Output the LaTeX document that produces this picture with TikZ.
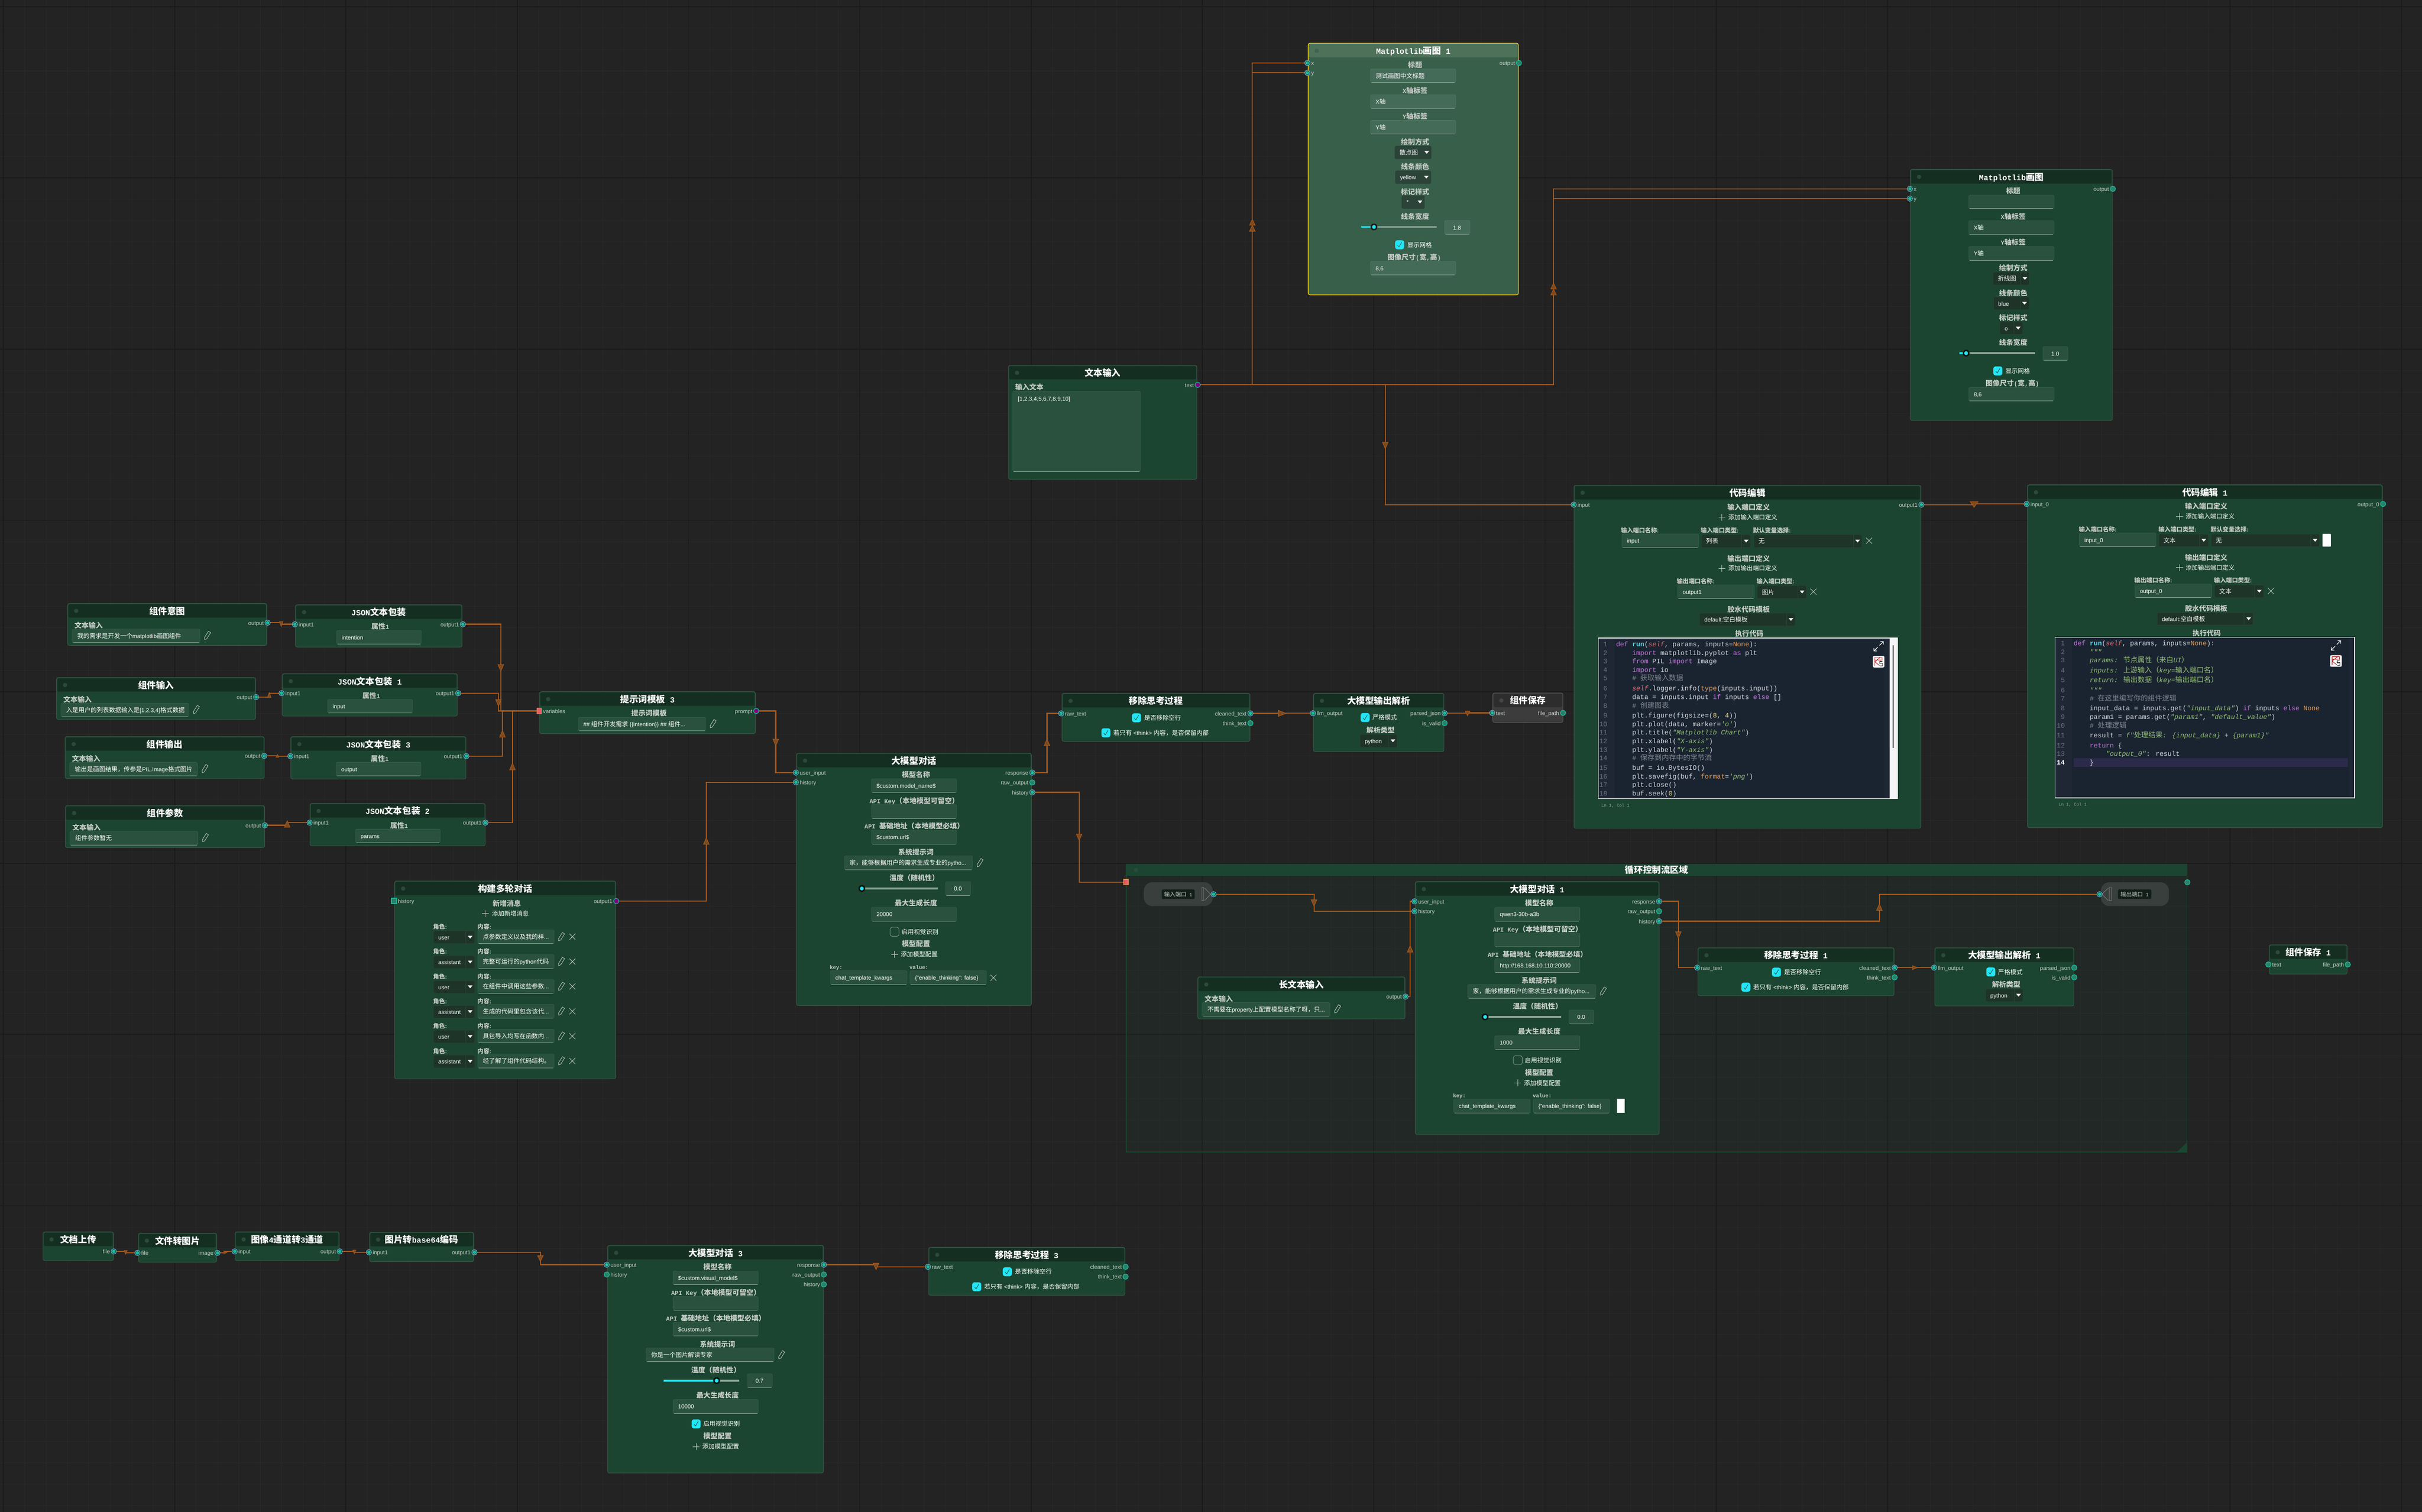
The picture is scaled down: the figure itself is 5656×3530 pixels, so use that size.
\documentclass[tikz,border=0pt]{standalone}
\usepackage{fontspec}
\usetikzlibrary{calc}
\setmainfont{Liberation Sans}[Scale=0.93]
\newfontfamily\cjkf{Noto Sans CJK SC}
\newfontfamily\monof{Liberation Mono}[Scale=0.87]
\newfontfamily\codef{Liberation Mono}[Scale=0.94,Ligatures=ResetAll]
\newfontfamily\lnf{Liberation Mono}[Scale=0.83]
% automatic switch to the CJK family
\newXeTeXintercharclass\cjkclass
\newcount\cjkn
\def\setclsrange#1#2#3{\cjkn=#1\relax\loop\XeTeXcharclass\cjkn=#3\relax\ifnum\cjkn<#2\relax\advance\cjkn by 1\repeat}
\setclsrange{"21}{"7E}{0}
\setclsrange{"3000}{"30FF}{\cjkclass}
\setclsrange{"4E00}{"9FFF}{\cjkclass}
\setclsrange{"FF00}{"FFEF}{\cjkclass}
\XeTeXinterchartoks 0 \cjkclass={\begingroup\cjkf}
\XeTeXinterchartoks \cjkclass 0={\endgroup}
\XeTeXinterchartoks 4095 \cjkclass={\begingroup\cjkf}
\XeTeXinterchartoks \cjkclass 4095={\endgroup}
\XeTeXinterchartokenstate=1
\definecolor{bgc}{HTML}{232323}
\definecolor{gridmin}{HTML}{292929}
\definecolor{gridmaj}{HTML}{1A1A1A}
\definecolor{bodyc}{HTML}{1B4530}
\definecolor{hdrc}{HTML}{152E22}
\definecolor{bordc}{HTML}{3A5748}
\definecolor{dotc}{HTML}{2C4A3B}
\definecolor{inbc}{HTML}{29513D}
\definecolor{inbd}{HTML}{33604A}
\definecolor{inln}{HTML}{8FA79A}
\definecolor{ddc}{HTML}{1E3429}
\definecolor{ddl}{HTML}{2B4237}
\definecolor{labc}{HTML}{C6CCC8}
\definecolor{wirec}{HTML}{A5581C}
\definecolor{trif}{HTML}{7A4A20}
\definecolor{cyanc}{HTML}{22E6F7}
\definecolor{portblue}{HTML}{6AA9C9}
\definecolor{portteal}{HTML}{1ABC9C}
\definecolor{portun}{HTML}{2A8068}
\definecolor{purp}{HTML}{800080}
\definecolor{edbg}{HTML}{1A2431}
\definecolor{edgut}{HTML}{1F2735}
\definecolor{hlc}{HTML}{2C2A4A}
\definecolor{ckw}{HTML}{C678DD}
\definecolor{cfn}{HTML}{56D4E0}
\definecolor{cself}{HTML}{E06C75}
\definecolor{cor}{HTML}{E5A05C}
\definecolor{cstr}{HTML}{98C379}
\definecolor{cnum}{HTML}{E5D07B}
\definecolor{ccm}{HTML}{7F858E}
\definecolor{ctx}{HTML}{D6DAE0}
\definecolor{cln}{HTML}{6C7480}
\pgfdeclarelayer{wirelayer}
\pgfdeclarelayer{toplayer}
\pgfsetlayers{main,wirelayer,toplayer}
\tikzset{
 mextra/.style={},
 ttl/.style={inner sep=0pt,outer sep=0pt,text=white,font=\fontsize{21}{24}\selectfont\monof\bfseries,text height=18.5pt,text depth=2.5pt},
 lab/.style={inner sep=0pt,outer sep=0pt,text=labc,font=\fontsize{16.5}{19}\selectfont\monof\bfseries,text height=14.5pt,text depth=2pt},
 labw/.style={lab,anchor=west},
 val/.style={inner sep=0pt,outer sep=0pt,anchor=west,text=white,font=\fontsize{14.3}{17}\selectfont,text height=12.6pt,text depth=1.7pt},
 valc/.style={val,anchor=center},
 small/.style={inner sep=0pt,outer sep=0pt,anchor=west,text=labc,font=\fontsize{14}{17}\selectfont\bfseries,text height=12.3pt,text depth=1.7pt},
 smallm/.style={small,font=\fontsize{14}{17}\selectfont\monof\bfseries},
 plab/.style={inner sep=0pt,outer sep=0pt,anchor=west,text=labc,font=\fontsize{14}{17}\selectfont,text height=12.3pt,text depth=1.7pt},
 prab/.style={plab,anchor=east},
 pill/.style={inner sep=0pt,outer sep=0pt,text=labc,font=\fontsize{13}{15}\selectfont\monof,text height=11.4pt,text depth=1.6pt},
 code/.style={inner sep=0pt,outer sep=0pt,anchor=west,text=ctx,font=\fontsize{16.7}{19}\selectfont\codef,text height=11.5pt,text depth=1.5pt},
 lnum/.style={inner sep=0pt,outer sep=0pt,anchor=east,text=cln,font=\fontsize{16.7}{19}\selectfont\codef,text height=11.5pt,text depth=1.5pt},
 lnum14/.style={lnum,text=white,font=\fontsize{16.7}{19}\selectfont\codef\bfseries},
 lnc/.style={inner sep=0pt,outer sep=0pt,anchor=west,text=labc!70!bodyc,font=\fontsize{12}{14}\selectfont\lnf,text height=10pt,text depth=1.5pt},
 body/.style={draw=bordc,fill=bodyc,line width=1.2pt,rounded corners=4pt,inner sep=0pt,outer sep=0pt,anchor=north west},
 inb/.style={fill=inbc,draw=inbd,line width=0.8pt,rounded corners=3pt},
 inline/.style={draw=inln,line width=1.1pt},
 ddbox/.style={fill=ddc,draw=ddl,line width=0.8pt,rounded corners=3pt},
 icon/.style={draw=labc,line width=1pt,line join=round},
 wire/.style={draw=wirec,line width=2.5pt,line join=miter},
 trih/.style={draw=wirec,fill=trif,line width=1.4pt,line join=miter},
 portc/.style={circle,draw=portblue,fill=bodyc,line width=1.4pt,minimum size=12.5pt,inner sep=0pt,outer sep=0pt},
 portu/.style={circle,draw=portteal,fill=portun,line width=1.4pt,minimum size=12.5pt,inner sep=0pt,outer sep=0pt},
 portp/.style={circle,draw=portteal,fill=purp,line width=1.4pt,minimum size=12.5pt,inner sep=0pt,outer sep=0pt},
 portr/.style={rectangle,draw=cor,fill=cself!85!red,line width=1.4pt,minimum width=11pt,minimum height=13pt,inner sep=0pt,outer sep=0pt},
 ports/.style={rectangle,draw=portteal,fill=portun,line width=2pt,minimum size=12.5pt,inner sep=0pt,outer sep=0pt},
}
\newcounter{tn}
\newcommand\mytx[4][val]{\stepcounter{tn}\node[#1] (t\arabic{tn}) at ({#2},{#3}) {#4};}
\newcommand\nbody[7][]{%
 \node[body,#1,minimum width=#5pt,minimum height=#6pt] (#2) at (#3,#4) {};
 \fill[hdrc,rounded corners=3pt] ({#3+2},{#4+2}) rectangle ({#3+#5-2},{#4+33});
 \fill[dotc] ({#3+20},{#4+17.5}) circle (5pt);
 \mytx[ttl]{#3+#5/2}{#4+17.5}{#7}}
\newcommand\inbox[5]{\path[inb] (#1,#2) rectangle (#3,#4);\draw[inline] ({#1+2},#4) -- ({#3-2},#4);\mytx[val]{#1+12}{(#2+#4)/2}{#5}}
\newcommand\ddown[6]{\path[ddbox] (#1,#2) rectangle (#3,#4);\draw[ddl,line width=0.8pt] (#5,#2) -- (#5,#4);
 \fill[white] ({(#5+#3)/2-5.5},{(#2+#4)/2-3.5}) -- ({(#5+#3)/2+5.5},{(#2+#4)/2-3.5}) -- ({(#5+#3)/2},{(#2+#4)/2+3}) -- cycle;
 \mytx[val]{#1+11}{(#2+#4)/2}{#6}}
\newcommand\chkb[3]{\ifnum#3=1\relax
 \fill[cyanc,rounded corners=5pt] ({#1-10.5},{#2-10.5}) rectangle ({#1+10.5},{#2+10.5});
 \draw[bodyc,line width=1pt] ({#1-5},{#2+1}) -- ({#1-1.5},{#2+5}) -- ({#1+5},{#2-6});
 \else\draw[labc!60!bodyc,line width=1pt,rounded corners=5pt] ({#1-10.5},{#2-10.5}) rectangle ({#1+10.5},{#2+10.5});\fi}
\newcommand\sld[4]{\draw[inln,line width=4pt] (#1,#3) -- (#2,#3);
 \draw[cyanc,line width=4pt] (#1,#3) -- ({#1+(#2-#1)*#4},#3);
 \fill[black!70!bodyc] ({#1+(#2-#1)*#4},#3) circle (8pt);
 \fill[cyanc] ({#1+(#2-#1)*#4},#3) circle (4.5pt);}
\newcommand\pen[2]{\draw[icon,shift={(#1,#2)},rotate=58] (-11,0) -- (-7,-3) -- (10,-3) -- (10,3) -- (-7,3) -- cycle;}
\newcommand\crs[2]{\draw[icon] ({#1-7},{#2-7}) -- ({#1+7},{#2+7}) ({#1-7},{#2+7}) -- ({#1+7},{#2-7});}
\newcommand\plus[2]{\draw[icon] ({#1-8},#2) -- ({#1+8},#2) (#1,{#2-8}) -- (#1,{#2+8});}
\newcommand\portC[3]{\begin{pgfonlayer}{toplayer}\node[portc] (#1) at (#2,#3) {};\fill[portteal] (#1.center) circle (4pt);\end{pgfonlayer}}
\newcommand\portU[3]{\begin{pgfonlayer}{toplayer}\node[portu] (#1) at (#2,#3) {};\end{pgfonlayer}}
\newcommand\portP[3]{\begin{pgfonlayer}{toplayer}\node[portp] (#1) at (#2,#3) {};\end{pgfonlayer}}
\newcommand\portR[3]{\begin{pgfonlayer}{toplayer}\node[portr] (#1) at (#2,#3) {};\end{pgfonlayer}}
\newcommand\portS[3]{\begin{pgfonlayer}{toplayer}\node[ports] (#1) at (#2,#3) {};\end{pgfonlayer}}
\newcommand\pL[5]{#1{#2}{#3}{#4}\mytx[plab]{#3+9}{#4}{#5}}
\newcommand\pE[5]{#1{#2}{#3}{#4}\mytx[prab]{#3-9}{#4}{#5}}
\newcommand\hvh[3]{\path (#2,0) coordinate (wx);\draw[wire] (#1.center) -- (#1.center -| wx) -- (wx |- #3.center) -- (#3.center);}
\newcommand\tri[5]{\draw[trih,shift={(#1,#2)},rotate=#3] ({-#4/2},{-#5/2}) -- ({#4/2},0) -- ({-#4/2},{#5/2}) -- cycle;}
\newcommand\textn[6]{\nbody{#1}{#2}{#3}{#4}{98}{#5}
 \begin{scope}[shift={(#2,#3)}]\mytx[labw]{16}{51}{文本输入}\inbox{10.5}{60}{309}{92}{#6}\pen{326}{75}\end{scope}}
\newcommand\jsonn[6]{\nbody{#1}{#2}{#3}{#4}{99}{#5}
 \pgfmathsetmacro\ddx{(#4-389)/2}
 \begin{scope}[shift={({#2+\ddx},#3)}]\mytx[lab]{198}{51}{属性1}\inbox{96}{60}{294}{92}{#6}\end{scope}}
\newcommand\rmn[5]{\nbody{#1}{#2}{#3}{#4}{112}{#5}
 \pgfmathsetmacro\ddx{(#4-439)/2}
 \begin{scope}[shift={({#2+\ddx},#3)}]\chkb{174}{57}{1}\mytx[val]{192}{57}{是否移除空行}\chkb{102.6}{92}{1}\mytx[val]{120}{92}{若只有 <think> 内容，是否保留内部}\end{scope}}
\newcommand\parsen[5]{\nbody{#1}{#2}{#3}{#4}{136}{#5}
 \pgfmathsetmacro\ddx{(#4-305)/2}
 \begin{scope}[shift={({#2+\ddx},#3)}]\chkb{121}{56.4}{1}\mytx[val]{138}{56.4}{严格模式}\mytx[lab]{157}{86}{解析类型}\ddown{109}{96}{196}{126}{175.5}{python}\end{scope}}
\newcommand\llm[5]{\nbody{#1}{#2}{#3}{#4}{#5}{\Ltitle}
 \pgfmathsetmacro\ddx{(#4-548.6)/2}
 \begin{scope}[shift={({#2+\ddx},#3)}]
 \mytx[lab]{279}{50.5}{模型名称}\inbox{175}{60}{374}{92}{\Lmodel}
 \mytx[lab]{275}{110.8}{API Key（本地模型可留空）}\inbox{175}{120}{374}{152}{}
 \mytx[lab]{275}{170.2}{API 基础地址（本地模型必填）}\inbox{175}{180}{374}{212}{\Lurl}
 \mytx[lab]{279}{230.8}{系统提示词}\inbox{112}{240}{411}{272}{\Lsys}\pen{428}{256}
 \mytx[lab]{275}{290.8}{温度（随机性）}\sld{152.6}{330}{316}{\Lfrac}
 \path[inb] (348.6,300) rectangle (406.7,332);\draw[inline] (350,332) -- (405,332);\mytx[valc]{377}{316}{\Ltemp}
 \mytx[lab]{279}{350}{最大生成长度}\inbox{175}{360}{374}{392}{\Lmax}
 \chkb{229}{417}{\Lcheck}\mytx[val]{245.5}{417}{启用视觉识别}
 \mytx[lab]{279}{445.4}{模型配置}\plus{229}{470}\mytx[val]{243.5}{470}{添加模型配置}
 \ifnum\Lkv>0\relax
 \mytx[smallm]{78}{499.4}{key:}\mytx[smallm]{264}{499.4}{value:}
 \inbox{79}{508}{258}{540}{chat\_template\_kwargs}\inbox{265}{508}{443.5}{540}{\{"enable\_thinking": false\}}
 \ifnum\Lkv=1\relax\crs{460}{524.5}\else\fill[white] (460,507) rectangle (478,540);\fi
 \fi
 \end{scope}}
\newcommand\mpl[5]{\nbody[mextra]{#1}{#2}{#3}{#4}{#5}{\Mtitle}
 \pgfmathsetmacro\ddx{(#4-471.6)/2}
 \begin{scope}[shift={({#2+\ddx},#3)}]
 \mytx[lab]{240}{50}{标题}\inbox{136}{60}{335}{92}{\Mt}
 \mytx[lab]{240}{110.6}{X轴标签}\inbox{136}{120}{335}{152}{X轴}
 \mytx[lab]{240}{170.6}{Y轴标签}\inbox{136}{180}{335}{212}{Y轴}
 \mytx[lab]{240}{230.5}{绘制方式}\ddown{193}{240}{277.7}{270}{256.7}{\Mplot}
 \mytx[lab]{240}{288.5}{线条颜色}\ddown{194}{298}{277}{327.7}{255.6}{\Mcolor}
 \mytx[lab]{240}{346.5}{标记样式}\ddown{209}{356}{262}{385.7}{241}{\Mmark}
 \mytx[lab]{240}{404.5}{线条宽度}\sld{114}{291}{429}{\Mfrac}
 \path[inb] (309,413.7) rectangle (367.7,446);\draw[inline] (311,446) -- (366,446);\mytx[valc]{338}{430}{\Mwidth}
 \chkb{204}{470.5}{1}\mytx[val]{222}{470.5}{显示网格}
 \mytx[lab]{238}{499.5}{图像尺寸(宽,高)}\inbox{136}{509}{335}{541}{8,6}
 \end{scope}}
\newcommand\mrow[3]{\begin{scope}[shift={(0,#1)}]
 \mytx[small]{1011.4}{2164}{角色:}\mytx[small]{1115}{2164}{内容:}
 \ddown{1012.5}{2173.7}{1108.5}{2203.3}{1087.4}{#2}
 \inbox{1115.6}{2171.3}{1294}{2203.3}{#3}
 \pen{1310.6}{2187.3}\crs{1336.6}{2187.3}\end{scope}}
\newcommand\fsicon[2]{\draw[white,line width=1.4pt] ({#1+2},{#2-2}) -- ({#1+11},{#2-11}) ({#1+4},{#2-11}) -- ({#1+11},{#2-11}) -- ({#1+11},{#2-4}) ({#1-2},{#2+2}) -- ({#1-11},{#2+11}) ({#1-4},{#2+11}) -- ({#1-11},{#2+11}) -- ({#1-11},{#2+4});}
\newcommand\ksicon[2]{\fill[white,rounded corners=3pt] ({#1-13.5},{#2-13.5}) rectangle ({#1+13.5},{#2+13.5});
 \draw[red!65!black,line width=1pt] ({#1-9},{#2-10}) -- ({#1-9},{#2+10}) ({#1-9},{#2}) -- ({#1+4},{#2-10}) ({#1-9},{#2}) -- ({#1+2},{#2+9}) ({#1-9},{#2-10}) -- ({#1+8},{#2-10}) -- ({#1+8},{#2-3}) ({#1-9},{#2-4}) -- ({#1+6},{#2-4});
 \draw[black!75,line width=1.3pt] ({#1+9},{#2-1}) -- ({#1+3},{#2-1}) -- ({#1+3},{#2+4}) -- ({#1+9},{#2+4}) -- ({#1+9},{#2+10}) -- ({#1+3},{#2+10});}
\newcommand\K[1]{\textcolor{ckw}{#1}}
\newcommand\Fn[1]{\textcolor{cfn}{\bfseries #1}}
\newcommand\Sf[1]{\textcolor{cself}{\itshape #1}}
\newcommand\Or[1]{\textcolor{cor}{#1}}
\newcommand\St[1]{\textcolor{cstr}{\itshape #1}}
\newcommand\Nm[1]{\textcolor{cnum}{#1}}
\newcommand\Cm[1]{\textcolor{ccm}{#1}}
\newcommand\cl[3]{\mytx[code]{#1}{#2}{#3}}
\newcommand\nl[3]{\mytx[lnum]{#1}{#2}{#3}}
\begin{document}
\begin{tikzpicture}[x=1pt,y=-1pt]
\useasboundingbox (0,0) rectangle (5656,3530);
\fill[bgc] (0,0) rectangle (5656,3530);
\foreach \k in {0,...,113} {\draw[gridmin,line width=1pt] ({8+50*\k},0) -- ({8+50*\k},3530);}
\foreach \k in {0,...,70} {\draw[gridmin,line width=1pt] (0,{15.5+50*\k}) -- (5656,{15.5+50*\k});}
\foreach \k in {0,...,14} {\draw[gridmaj,line width=2pt] ({8+400*\k},0) -- ({8+400*\k},3530);}
\foreach \k in {0,...,8} {\draw[gridmaj,line width=2pt] (0,{15.5+400*\k}) -- (5656,{15.5+400*\k});}
% ---------- loop group
\node[draw=bodyc,line width=1.5pt,fill=bodyc,fill opacity=0.16,inner sep=0pt,outer sep=0pt,anchor=north west,minimum width=2477pt,minimum height=672pt] (gLoop) at (2630,2018) {};
\fill[bodyc] (2630,2018) rectangle (5107,2045);
\fill[dotc] (2653,2031.5) circle (5pt);
\mytx[ttl]{3868.5}{2031.5}{循环控制流区域}
\fill[bodyc] (5083.6,2690) -- (5107,2667) -- (5107,2690) -- cycle;
\fill[black!70!bodyc!60!gray,rounded corners=20pt] (2671,2060) rectangle (2832,2115.6);
\fill[ddc!60!black,rounded corners=3pt] (2713,2077) rectangle (2790,2099);
\mytx[pill]{2751.5}{2088}{输入端口 1}
\draw[gray,line width=1pt] (2806.5,2072) rectangle (2810.7,2102.7) (2813,2073.7) -- (2827,2088) -- (2813,2102.7);
\fill[black!70!bodyc!60!gray,rounded corners=20pt] (4906,2060) rectangle (5065,2115.6);
\fill[ddc!60!black,rounded corners=3pt] (4946,2077) rectangle (5024,2099);
\mytx[pill]{4985}{2088}{输出端口 1}
\draw[gray,line width=1pt] (4925.5,2072) rectangle (4930.6,2102.7) (4923.5,2073.7) -- (4908,2088) -- (4923.5,2102.7);
% ---------- text input nodes
\textn{nIntent}{158}{1409}{465}{组件意图}{我的需求是开发一个matplotlib画图组件}
\textn{nInput}{132}{1582}{465}{组件输入}{入是用户的列表数据输入是[1,2,3,4]格式数据}
\textn{nOutput}{152}{1720}{465}{组件输出}{输出是画图结果，传参是PIL.Image格式图片}
\textn{nParams}{153}{1881}{465}{组件参数}{组件参数暂无}
\jsonn{nJ}{690}{1412}{389}{JSON文本包装}{intention}
\jsonn{nJa}{659}{1573}{409}{JSON文本包装 1}{input}
\jsonn{nJc}{679}{1720}{409}{JSON文本包装 3}{output}
\jsonn{nJb}{724}{1876}{409}{JSON文本包装 2}{params}
% ---------- prompt
\nbody{nPrompt}{1260}{1615}{504}{98}{提示词模板 3}
\mytx[lab]{1515.7}{1665}{提示词模板}
\inbox{1350.4}{1674.7}{1648}{1706.5}{\#\# 组件开发需求 \{\{intention\}\} \#\# 组件...}
\pen{1664.7}{1690}
% ---------- multi turn
\nbody{nMulti}{921.5}{2057.3}{516.5}{461.7}{构建多轮对话}
\mytx[lab]{1183.5}{2109.3}{新增消息}
\plus{1133}{2133}\mytx[val]{1149}{2133}{添加新增消息}
\mrow{0}{user}{点参数定义以及我的样...}
\mrow{58}{assistant}{完整可运行的python代码}
\mrow{116}{user}{ 在组件中调用这些参数...}
\mrow{174}{assistant}{生成的代码里包含该代...}
\mrow{232}{user}{具包导入均写在函数内...}
\mrow{290}{assistant}{经了解了组件代码结构。}
% ---------- LLM nodes
\def\Ltitle{大模型对话}\def\Lmodel{\$custom.model\_name\$}\def\Lurl{\$custom.url\$}\def\Lsys{家，能够根据用户的需求生成专业的pytho...}\def\Lfrac{0}\def\Ltemp{0.0}\def\Lmax{20000}\def\Lcheck{0}\def\Lkv{1}
\llm{nLLM}{1860}{1758.6}{548.6}{589.4}
\def\Ltitle{大模型对话 1}\def\Lmodel{qwen3-30b-a3b}\def\Lurl{http://168.168.10.110:20000}\def\Lmax{1000}\def\Lkv{2}
\llm{nLLMa}{3305}{2058.5}{569.5}{590.5}
\def\Ltitle{大模型对话 3}\def\Lmodel{\$custom.visual\_model\$}\def\Lurl{\$custom.url\$}\def\Lsys{你是一个图片解读专家}\def\Lfrac{0.7}\def\Ltemp{0.7}\def\Lmax{10000}\def\Lcheck{1}\def\Lkv{0}
\llm{nLLMc}{1419}{2907.7}{504}{531.8}
% ---------- text input (top)
\nbody{nText}{2355}{853}{440}{266}{文本输入}
\mytx[labw]{2370.7}{903.4}{输入文本}
\path[inb] (2365,913.5) rectangle (2663,1101.5);\draw[inline] (2367,1101.5) -- (2661,1101.5);
\mytx[val]{2377}{930.4}{[1,2,3,4,5,6,7,8,9,10]}
% ---------- matplotlib nodes
\begin{scope}
\definecolor{bodyc}{HTML}{385F4A}\definecolor{hdrc}{HTML}{4D7159}\definecolor{dotc}{HTML}{3F6350}\definecolor{inbc}{HTML}{436B57}\definecolor{inbd}{HTML}{4F7A63}\definecolor{ddc}{HTML}{2B4338}
\tikzset{mextra/.style={draw=yellow!70!orange,line width=1.6pt}}
\def\Mtitle{Matplotlib画图 1}\def\Mt{测试画图中文标题}\def\Mplot{散点图}\def\Mcolor{yellow}\def\Mmark{*}\def\Mwidth{1.8}\def\Mfrac{0.17}
\mpl{nMplA}{3055}{101}{490.6}{587.4}
\end{scope}
\def\Mtitle{Matplotlib画图}\def\Mt{}\def\Mplot{折线图}\def\Mcolor{blue}\def\Mmark{o}\def\Mwidth{1.0}\def\Mfrac{0.09}
\mpl{nMplB}{4461.4}{395.5}{471.6}{586.5}
% ---------- code editor nodes
\nbody{nCode}{3675.7}{1133}{810}{801}{代码编辑}
\mytx[lab]{4083.4}{1184.3}{输入端口定义}
\plus{4021}{1208}\mytx[val]{4036}{1208}{添加输入端口定义}
\mytx[small]{3785.5}{1238}{输入端口名称:}\mytx[small]{3971.8}{1238}{输入端口类型:}\mytx[small]{4093.6}{1238}{默认变量选择:}
\inbox{3787.4}{1246.5}{3966.7}{1278.7}{input}
\ddown{3973}{1248.6}{4088}{1278.7}{4067.5}{列表}
\ddown{4095.5}{1248.6}{4348}{1278.7}{4327.8}{无}
\crs{4364.8}{1262.6}
\mytx[lab]{4083.4}{1303.8}{输出端口定义}
\plus{4021}{1327}\mytx[val]{4036}{1327}{添加输出端口定义}
\mytx[small]{3915.6}{1357.4}{输出端口名称:}\mytx[small]{4102}{1357.4}{输入端口类型:}
\inbox{3917.5}{1365.5}{4096.8}{1397.6}{output1}
\ddown{4103.8}{1367.6}{4218.7}{1397.6}{4198}{图片}
\crs{4234.6}{1381.6}
\mytx[lab]{4083.4}{1422.8}{胶水代码模板}
\ddown{3969.2}{1432}{4192.5}{1461.4}{4172}{default:空白模板}
\mytx[lab]{4085}{1480}{执行代码}
\fill[edbg] (3732,1489.8) rectangle (4413,1865);
\fill[edgut] (3732,1489.8) rectangle (3770,1865);
\fill[edgut] (4400.5,1489.8) rectangle (4413,1865);
\fill[black!4] (4413,1489.8) rectangle (4431,1865);
\draw[gray,line width=3pt] (4421.6,1507) -- (4421.6,1747);
\draw[white,line width=1.4pt] (3732,1489.8) rectangle (4431,1865);
\nl{3753.5}{1504.8}{1}\cl{3774}{1504.8}{\K{def} \Fn{run}(\Sf{self}, params, inputs=\Or{None}):}
\nl{3753.5}{1524.7}{2}\cl{3811.6}{1524.7}{\K{import} matplotlib.pyplot \K{as} plt}
\nl{3753.5}{1544.5}{3}\cl{3811.6}{1544.5}{\K{from} PIL \K{import} Image}
\nl{3753.5}{1564.9}{4}\cl{3811.6}{1564.9}{\K{import} io}
\nl{3753.5}{1584.2}{5}\cl{3811.6}{1584.2}{\Cm{\# 获取输入数据}}
\nl{3753.5}{1607.8}{6}\cl{3811.6}{1607.8}{\Sf{self}.logger.info(\Or{type}(inputs.input))}
\nl{3753.5}{1628.1}{7}\cl{3811.6}{1628.1}{data = inputs.input \K{if} inputs \K{else} []}
\nl{3753.5}{1648}{8}\cl{3811.6}{1648}{\Cm{\# 创建图表}}
\nl{3753.5}{1671}{9}\cl{3811.6}{1671}{plt.figure(figsize=(\Nm{8}, \Nm{4}))}
\nl{3753.5}{1690.8}{10}\cl{3811.6}{1690.8}{plt.plot(data, marker=\St{'o'})}
\nl{3753.5}{1710.7}{11}\cl{3811.6}{1710.7}{plt.title(\St{"Matplotlib Chart"})}
\nl{3753.5}{1731}{12}\cl{3811.6}{1731}{plt.xlabel(\St{"X-axis"})}
\nl{3753.5}{1750.9}{13}\cl{3811.6}{1750.9}{plt.ylabel(\St{"Y-axis"})}
\nl{3753.5}{1770.7}{14}\cl{3811.6}{1770.7}{\Cm{\# 保存到内存中的字节流}}
\nl{3753.5}{1793.2}{15}\cl{3811.6}{1793.2}{buf = io.BytesIO()}
\nl{3753.5}{1813}{16}\cl{3811.6}{1813}{plt.savefig(buf, \Or{format}=\St{'png'})}
\nl{3753.5}{1832.9}{17}\cl{3811.6}{1832.9}{plt.close()}
\nl{3753.5}{1853.2}{18}\cl{3811.6}{1853.2}{buf.seek(\Nm{0})}
\fsicon{4387}{1509}\ksicon{4387}{1545}
\mytx[lnc]{3739.5}{1880}{Ln 1, Col 1}
% code 1
\nbody{nCodeB}{4734.5}{1132}{829}{800.6}{代码编辑 1}
\mytx[lab]{5152}{1182}{输入端口定义}
\plus{5089.7}{1205.8}\mytx[val]{5104}{1205.8}{添加输入端口定义}
\mytx[small]{4854.5}{1236.3}{输入端口名称:}\mytx[small]{5040.6}{1236.3}{输入端口类型:}\mytx[small]{5162.4}{1236.3}{默认变量选择:}
\inbox{4855.7}{1244.4}{5034.5}{1276.5}{input\_0}
\ddown{5041.2}{1247}{5157}{1276.5}{5135.7}{文本}
\ddown{5163.6}{1247}{5417}{1276.5}{5395.7}{无}
\fill[white,rounded corners=1pt] (5423.6,1246.5) rectangle (5443,1276.5);
\mytx[lab]{5152}{1301.7}{输出端口定义}
\plus{5089.7}{1325.3}\mytx[val]{5104}{1325.3}{添加输出端口定义}
\mytx[small]{4984.2}{1355.3}{输出端口名称:}\mytx[small]{5170.3}{1355.3}{输入端口类型:}
\inbox{4985.4}{1363.9}{5164.8}{1395.5}{output\_0}
\ddown{5171.5}{1366}{5286.6}{1395.5}{5265.4}{文本}
\crs{5303}{1380}
\mytx[lab]{5152}{1420.7}{胶水代码模板}
\ddown{5037.5}{1430.3}{5261.8}{1459.8}{5240.6}{default:空白模板}
\mytx[lab]{5153.3}{1478}{执行代码}
\fill[edbg] (4799.4,1487.7) rectangle (5498.7,1863);
\fill[edgut] (4799.4,1487.7) rectangle (4838,1863);
\fill[edgut] (5486,1487.7) rectangle (5497,1863);
\fill[hlc] (4842.4,1770) rectangle (5483,1790.5);
\draw[white,line width=1.4pt] (4799.4,1487.7) rectangle (5498.7,1863);
\nl{4821.8}{1502.7}{1}\cl{4842.4}{1502.7}{\K{def} \Fn{run}(\Sf{self}, params, inputs=\Or{None}):}
\nl{4821.8}{1522.5}{2}\cl{4880}{1522.5}{\St{"""}}
\nl{4821.8}{1542.4}{3}\cl{4880}{1542.4}{\St{params: 节点属性（来自UI）}}
\nl{4821.8}{1565.4}{4}\cl{4880}{1565.4}{\St{inputs: 上游输入（key=输入端口名）}}
\nl{4821.8}{1588.5}{5}\cl{4880}{1588.5}{\St{return: 输出数据（key=输出端口名）}}
\nl{4821.8}{1611.5}{6}\cl{4880}{1611.5}{\St{"""}}
\nl{4821.8}{1631.3}{7}\cl{4880}{1631.3}{\Cm{\# 在这里编写你的组件逻辑}}
\nl{4821.8}{1654.4}{8}\cl{4880}{1654.4}{input\_data = inputs.get(\St{"input\_data"}) \K{if} inputs \K{else} \Or{None}}
\nl{4821.8}{1674.8}{9}\cl{4880}{1674.8}{param1 = params.get(\St{"param1"}, \St{"default\_value"})}
\nl{4821.8}{1694.6}{10}\cl{4880}{1694.6}{\Cm{\# 处理逻辑}}
\nl{4821.8}{1717.6}{11}\cl{4880}{1717.6}{result = \St{f"处理结果: \{input\_data\} + \{param1\}"}}
\nl{4821.8}{1740.7}{12}\cl{4880}{1740.7}{\K{return} \{}
\nl{4821.8}{1760.5}{13}\cl{4917.6}{1760.5}{\St{"output\_0"}: result}
\mytx[lnum14]{4821.8}{1780.9}{14}\cl{4880}{1780.9}{\}}
\fsicon{5455}{1507}\ksicon{5455}{1543.4}
\mytx[lnc]{4807.3}{1878}{Ln 1, Col 1}
% ---------- remove think / parser / save
\rmn{nRm}{2480}{1619}{439}{移除思考过程}
\parsen{nPs}{3067}{1619}{305}{大模型输出解析}
\begin{scope}
\definecolor{bodyc}{HTML}{3C3C3C}\definecolor{hdrc}{HTML}{2D2D2D}\definecolor{dotc}{HTML}{454545}\definecolor{bordc}{HTML}{555555}
\nbody{nSave}{3486}{1618}{164}{69}{组件保存}
\end{scope}
\rmn{nRma}{3965}{2213}{458}{移除思考过程 1}
\parsen{nPsa}{4518}{2213}{325}{大模型输出解析 1}
\nbody{nSavea}{5299}{2206}{182}{68.5}{组件保存 1}
\rmn{nRmc}{2168.6}{2912.5}{458.4}{移除思考过程 3}
% long text
\textn{nLong}{2797}{2281}{484}{长文本输入}{不需要在property上配置模型名称了呀，只...}
% bottom chain
\nbody{nUp}{100.5}{2876.5}{164.5}{67}{文档上传}
\nbody{nF2I}{323}{2879.5}{183}{67.5}{文件转图片}
\nbody{nI43}{549}{2876.5}{243}{67}{图像4通道转3通道}
\nbody{nB64}{863}{2877}{243}{69}{图片转base64编码}
% ---------- ports
\pE\portC{pIntentO}{625}{1454}{output}
\pL\portC{pJI}{688.6}{1457.6}{input1}\pE\portC{pJO}{1081}{1457.6}{output1}
\pE\portC{pInputO}{598}{1627.6}{output}
\pL\portC{pJaI}{657.5}{1618.5}{input1}\pE\portC{pJaO}{1070}{1618.5}{output1}
\pE\portC{pOutO}{617}{1765}{output}
\pL\portC{pJcI}{678}{1765.5}{input1}\pE\portC{pJcO}{1089}{1765.5}{output1}
\pE\portC{pParO}{618.6}{1927}{output}
\pL\portC{pJbI}{723}{1920.8}{input1}\pE\portC{pJbO}{1133.6}{1920.8}{output1}
\pL\portR{pVar}{1259}{1660}{variables}
\pE\portP{pPrompt}{1766}{1660}{prompt}
\pL\portS{pMH}{920}{2103.8}{history}\pE\portP{pMO}{1439}{2103.8}{output1}
\pL\portC{pUI}{1858.6}{1804}{user\_input}\pL\portC{pHI}{1858.6}{1826.5}{history}
\pE\portC{pRes}{2410.6}{1804}{response}\pE\portU{pRaw}{2410.6}{1827}{raw\_output}\pE\portC{pHO}{2410.6}{1850}{history}
\pE\portP{pTxt}{2797}{898.6}{text}
\pL\portC{pXa}{3053}{147}{x}\pL\portC{pYa}{3053}{170}{y}\pE\portU{pOa}{3547}{147}{output}
\pL\portC{pXb}{4460}{441}{x}\pL\portC{pYb}{4460}{463.6}{y}\pE\portU{pOb}{4934}{441}{output}
\pL\portC{pCI}{3675}{1178.4}{input}\pE\portC{pCO}{4487}{1178.4}{output1}
\pL\portC{pCbI}{4732.7}{1176.8}{input\_0}\pE\portU{pCbO}{5565}{1176.8}{output\_0}
\pL\portC{pRmI}{2478}{1665.7}{raw\_text}\pE\portC{pRmO}{2920}{1665.7}{cleaned\_text}\pE\portU{pRmT}{2920}{1688.5}{think\_text}
\pL\portC{pPsI}{3066}{1665.3}{llm\_output}\pE\portC{pPsO}{3373.5}{1665.3}{parsed\_json}\pE\portU{pPsV}{3373.5}{1688.5}{is\_valid}
\pL\portC{pSvI}{3484.5}{1664.6}{text}\pE\portU{pSvO}{3650}{1664.6}{file\_path}
\portR{pLoopIn}{2629}{2059.5}\portU{pLoopOut}{5108}{2060}
\portC{pPillI}{2834}{2088}\portC{pPillO}{4903}{2088}
\pE\portC{pLongO}{3282.4}{2327}{output}
\pL\portC{pUIa}{3303}{2104.5}{user\_input}\pL\portC{pHIa}{3303}{2127.7}{history}
\pE\portC{pResa}{3874.3}{2104.5}{response}\pE\portU{pRawa}{3874.3}{2127.7}{raw\_output}\pE\portC{pHOa}{3874.3}{2150.9}{history}
\pL\portC{pRmaI}{3963.3}{2259.4}{raw\_text}\pE\portC{pRmaO}{4424.5}{2259.4}{cleaned\_text}\pE\portU{pRmaT}{4424.5}{2282}{think\_text}
\pL\portC{pPsaI}{4516.3}{2259.4}{llm\_output}\pE\portU{pPsaO}{4843.9}{2259.4}{parsed\_json}\pE\portU{pPsaV}{4843.9}{2282}{is\_valid}
\pL\portU{pSvaI}{5297}{2252}{text}\pE\portU{pSvaO}{5482.7}{2252}{file\_path}
\pE\portC{pUpO}{265.7}{2922}{file}
\pL\portC{pFI}{321}{2925.4}{file}\pE\portC{pFO}{507.7}{2925.4}{image}
\pL\portC{pI4I}{548}{2922}{input}\pE\portC{pI4O}{793.5}{2922}{output}
\pL\portC{pBI}{861.4}{2924}{input1}\pE\portC{pBO}{1108}{2924}{output1}
\pL\portC{pUIc}{1416.8}{2953}{user\_input}\pL\portU{pHIc}{1416.8}{2976}{history}
\pE\portC{pResc}{1924}{2953}{response}\pE\portU{pRawc}{1924}{2976}{raw\_output}\pE\portU{pHOc}{1924}{2999}{history}
\pL\portC{pRmcI}{2167}{2958}{raw\_text}\pE\portU{pRmcO}{2628.6}{2958}{cleaned\_text}\pE\portU{pRmcT}{2628.6}{2981}{think\_text}
% ---------- wires
\begin{pgfonlayer}{wirelayer}
\hvh{pIntentO}{656.7}{pJI}\tri{656.7}{1457}{270}{11}{8}
\hvh{pInputO}{628.7}{pJaI}\tri{628.7}{1623}{90}{11}{8}
\hvh{pOutO}{648}{pJcI}\tri{648}{1765}{90}{6}{6}
\hvh{pParO}{670.7}{pJbI}\tri{670.7}{1924}{90}{15}{13}
\hvh{pJO}{1169.5}{pVar}\tri{1169.5}{1559.5}{270}{15}{13}
\hvh{pJaO}{1164}{pVar}\tri{1164}{1641}{270}{15}{13}
\hvh{pJcO}{1173.3}{pVar}\tri{1173.3}{1713.5}{90}{15}{13}
\hvh{pJbO}{1196.7}{pVar}\tri{1196.7}{1790}{90}{15}{13}
\hvh{pPrompt}{1811.6}{pUI}\tri{1811.6}{1733.5}{270}{15}{13}
\hvh{pMO}{1649.4}{pHI}\tri{1649.4}{1964}{90}{15}{13}
\hvh{pRes}{2445}{pRmI}\tri{2445}{1733.5}{90}{15}{13}
\hvh{pHO}{2520}{pLoopIn}\tri{2520}{1955}{270}{15}{13}
\hvh{pRmO}{2994}{pPsI}\tri{2994}{1665.7}{0}{18}{14}
\hvh{pPsO}{3427}{pSvI}\tri{3427}{1665.7}{270}{11}{11}
\hvh{pTxt}{2924.5}{pXa}\hvh{pTxt}{2924.5}{pYa}\tri{2924.5}{519}{90}{13.5}{13}\tri{2924.5}{533}{90}{13.5}{13}
\hvh{pTxt}{3628}{pXb}\hvh{pTxt}{3628}{pYb}\tri{3628}{668}{90}{13.5}{13}\tri{3628}{682}{90}{13.5}{13}
\hvh{pTxt}{3235}{pCI}\tri{3235}{1040}{270}{15}{13}
\hvh{pCO}{4610}{pCbI}\tri{4610}{1178}{270}{13}{18}
\hvh{pPillI}{3068.5}{pHIa}\tri{3068.5}{2108.5}{270}{15}{13}
\hvh{pLongO}{3293}{pUIa}\tri{3293}{2215.6}{90}{15}{13}
\hvh{pResa}{3919.4}{pRmaI}\tri{3919.4}{2183}{270}{15}{13}
\hvh{pHOa}{4388.8}{pPillO}\tri{4388.8}{2118.3}{90}{15}{13}
\hvh{pRmaO}{4471.4}{pPsaI}\tri{4471.4}{2259.4}{0}{11}{9}
\hvh{pUpO}{293.4}{pFI}\tri{293.4}{2924}{270}{8}{7}
\hvh{pFO}{526.5}{pI4I}\tri{526.5}{2924}{0}{7}{6}
\hvh{pI4O}{827.4}{pBI}\tri{827.4}{2923}{270}{8}{7}
\hvh{pBO}{1262}{pUIc}\tri{1262}{2938.5}{270}{13}{13}
\hvh{pResc}{2045.8}{pRmcI}\tri{2045.8}{2957}{270}{15}{13}
\end{pgfonlayer}
\end{tikzpicture}
\end{document}
